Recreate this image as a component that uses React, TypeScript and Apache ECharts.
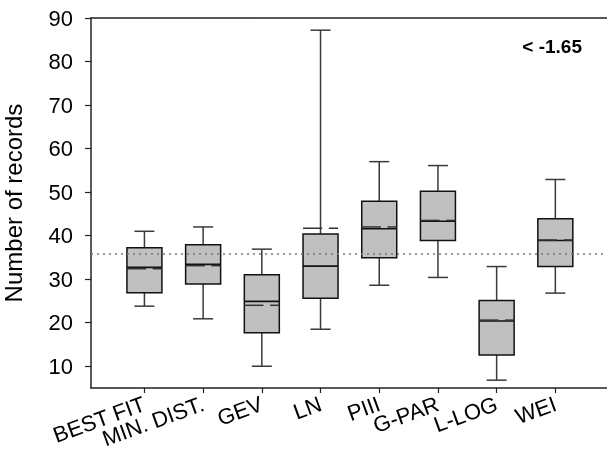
import React, { useEffect, useRef } from "react";
import * as echarts from "echarts";

const categories = ["BEST FIT", "MIN. DIST.", "GEV", "LN", "PIII", "G-PAR", "L-LOG", "WEI"];
const lowWhisker = [23.8, 20.9, 10.0, 18.5, 28.6, 30.4, 6.8, 26.8];
const q1 = [26.9, 28.9, 17.7, 25.6, 34.9, 38.9, 12.6, 32.9];
const median = [32.7, 33.4, 24.9, 33.0, 41.6, 43.3, 20.4, 38.9];
const q3 = [37.2, 37.9, 31.0, 40.4, 47.9, 50.2, 25.1, 43.9];
const highWhisker = [41.0, 42.0, 36.9, 87.2, 57.0, 56.1, 32.9, 52.9];
const mean = [32.4, 33.1, 24.0, 41.7, 42.0, 43.5, 20.6, 39.0];
const refLine = 35.8;
const yTicks = [10, 20, 30, 40, 50, 60, 70, 80, 90];
const xPositions = [1, 2, 3, 4, 5, 6, 7, 8];
const annotation = "< -1.65";

const FONT = "'Liberation Sans', Arial, sans-serif";

export default function App() {
  const ref = useRef<HTMLDivElement>(null);
  useEffect(() => {
    if (!ref.current) return;
    const chart = echarts.init(ref.current, null, { renderer: "svg" });
    const data = categories.map((_, i) => [
      xPositions[i], lowWhisker[i], q1[i], median[i], q3[i], highWhisker[i], mean[i],
    ]);
    const oddPositions = xPositions.filter((_, i) => i % 2 === 0);
    const evenPositions = xPositions.filter((_, i) => i % 2 === 1);
    const BOX_W = 35;
    const CAP_W = 20;
    const renderItem = (params: any, api: any) => {
      const x = api.value(0);
      const pLow = api.coord([x, api.value(1)]);
      const pQ1 = api.coord([x, api.value(2)]);
      const pMed = api.coord([x, api.value(3)]);
      const pQ3 = api.coord([x, api.value(4)]);
      const pHigh = api.coord([x, api.value(5)]);
      const pMean = api.coord([x, api.value(6)]);
      const cx = pLow[0];
      const l = cx - BOX_W / 2;
      const r = cx + BOX_W / 2;
      const wStyle = { stroke: "#3a3a3a", lineWidth: 1.5 };
      return {
        type: "group",
        children: [
          { type: "line", shape: { x1: cx, y1: pQ3[1], x2: cx, y2: pHigh[1] }, style: wStyle },
          { type: "line", shape: { x1: cx, y1: pQ1[1], x2: cx, y2: pLow[1] }, style: wStyle },
          { type: "line", shape: { x1: cx - CAP_W / 2, y1: pHigh[1], x2: cx + CAP_W / 2, y2: pHigh[1] }, style: wStyle },
          { type: "line", shape: { x1: cx - CAP_W / 2, y1: pLow[1], x2: cx + CAP_W / 2, y2: pLow[1] }, style: wStyle },
          {
            type: "rect",
            shape: { x: l, y: pQ3[1], width: BOX_W, height: pQ1[1] - pQ3[1] },
            style: { fill: "#c0c0c0", stroke: "#111", lineWidth: 1.5 },
          },
          { type: "line", shape: { x1: l, y1: pMed[1], x2: r, y2: pMed[1] }, style: { stroke: "#111", lineWidth: 1.6 } },
          { type: "line", shape: { x1: l, y1: pMean[1], x2: cx + 1.7, y2: pMean[1] }, style: { stroke: "#333", lineWidth: 1.5 } },
          { type: "line", shape: { x1: cx + 8.3, y1: pMean[1], x2: r, y2: pMean[1] }, style: { stroke: "#333", lineWidth: 1.5 } },
        ],
      };
    };
    const labelCommon = {
      formatter: (v: number) => categories[Math.round(v) - 1] ?? "",
      rotate: 20,
      color: "#000",
      fontSize: 22,
      fontFamily: FONT,
      margin: 15,
      hideOverlap: false,
    };
    chart.setOption({
      animation: false,
      textStyle: { fontFamily: FONT },
      grid: { left: 91, top: 18, right: 0, bottom: 71, containLabel: false, outerBoundsMode: "none" },
      xAxis: [
        {
          type: "value",
          min: 0.09,
          max: 8.88,
          splitLine: { show: false },
          axisLine: { show: true, lineStyle: { color: "#222", width: 1.5 } },
          axisTick: { show: true, customValues: xPositions, length: 5, lineStyle: { color: "#222", width: 1.2 } },
          axisLabel: { ...labelCommon, customValues: oddPositions },
        },
        {
          type: "value",
          position: "top",
          min: 0.09,
          max: 8.88,
          splitLine: { show: false },
          axisLine: { show: true, lineStyle: { color: "#222", width: 1.5 } },
          axisTick: { show: false },
          axisLabel: { show: false },
        },
        {
          type: "value",
          position: "bottom",
          offset: 0,
          min: 0.09,
          max: 8.88,
          splitLine: { show: false },
          axisLine: { show: false },
          axisTick: { show: false },
          axisLabel: { ...labelCommon, customValues: evenPositions },
        },
      ],
      yAxis: {
        type: "value",
        min: 5,
        max: 90,
        name: "Number of records",
        nameLocation: "middle",
        nameGap: 66,
        nameRotate: 90,
        nameMoveOverlap: false,
        nameTextStyle: { fontSize: 24, color: "#000", fontFamily: FONT },
        splitLine: { show: false },
        axisLine: { show: true, lineStyle: { color: "#222", width: 1.5 } },
        axisTick: { show: true, customValues: yTicks, length: 6, lineStyle: { color: "#222", width: 1.2 } },
        axisLabel: {
          customValues: yTicks,
          color: "#000",
          fontSize: 22,
          fontFamily: FONT,
          margin: 18,
          hideOverlap: false,
          showMinLabel: true,
          showMaxLabel: true,
        },
      },
      series: [
        {
          type: "line",
          data: [],
          markLine: {
            silent: true,
            symbol: "none",
            label: { show: false },
            lineStyle: { color: "#777", type: [2, 4], width: 1.5 },
            data: [{ yAxis: refLine }],
          },
        },
        {
          type: "custom",
          renderItem,
          data,
          encode: { x: 0, y: [1, 2, 3, 4, 5, 6] },
          z: 3,
        },
      ],
      graphic: [
        {
          type: "text",
          right: 25,
          top: 37,
          style: { text: annotation, font: `bold 19px ${FONT}`, fill: "#000" },
        },
      ],
    });
    return () => chart.dispose();
  }, []);
  return <div ref={ref} style={{ position: "fixed", left: 0, top: 0, width: 607, height: 459 }} />;
}
